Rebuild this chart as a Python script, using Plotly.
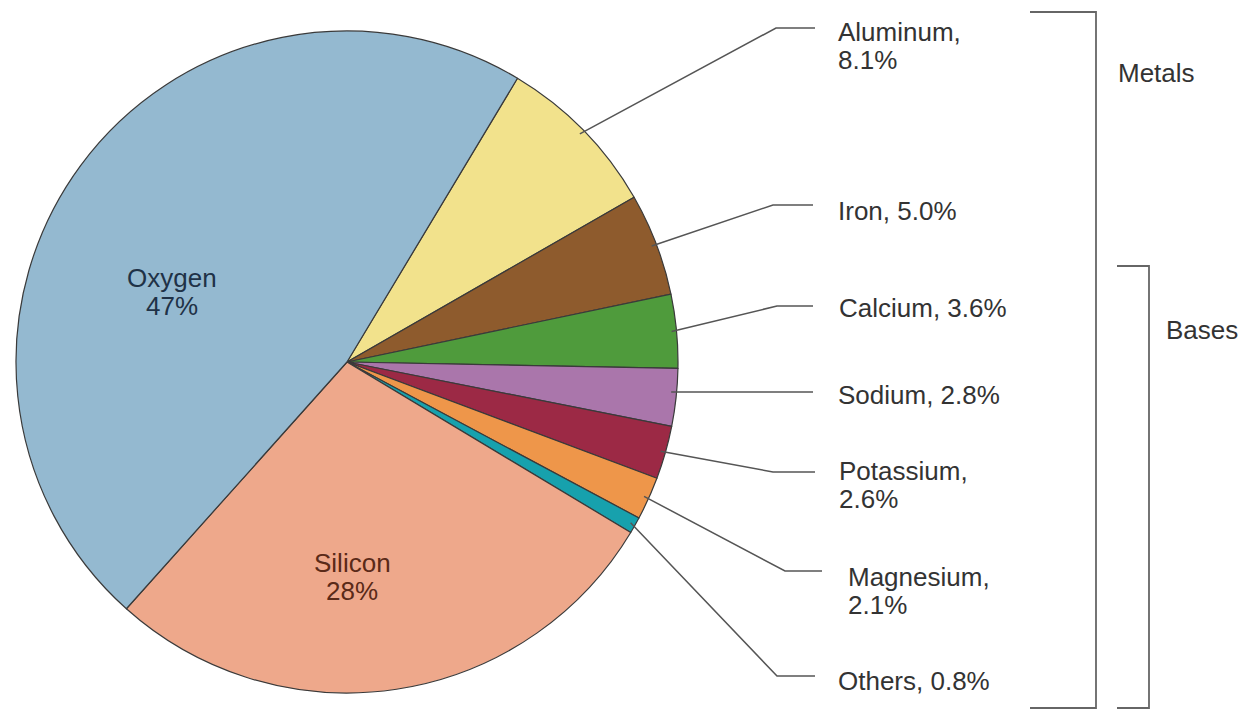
import math
import plotly.graph_objects as go

# ---- data ----
elements = ["Aluminum", "Iron", "Calcium", "Sodium", "Potassium",
            "Magnesium", "Others", "Silicon", "Oxygen"]
percent = [8.1, 5.0, 3.6, 2.8, 2.6, 2.1, 0.8, 28, 47]
colors = ["#f2e28c", "#8e5b2d", "#4f9b3c", "#aa76ab", "#9c2945",
          "#ee964a", "#17a1ad", "#eea88b", "#94b9d0"]
outside_labels = ["Aluminum,<br>8.1%", "Iron, 5.0%", "Calcium, 3.6%", "Sodium, 2.8%",
                  "Potassium,<br>2.6%", "Magnesium,<br>2.1%", "Others, 0.8%"]
inside_labels = {"Oxygen": "Oxygen<br>47%", "Silicon": "Silicon<br>28%"}
groups = ["Metals", "Bases"]

# ---- layout constants (pixels) ----
W, H = 1240, 709
CX, CY, R = 347, 362, 331
ROT = 31
FONT = "Liberation Sans, Arial, sans-serif"
FS = 26
LINE_GAP = 28

def px(x):
    return x / W

def py(y):
    return 1 - y / H

fig = go.Figure()
fig.add_trace(go.Pie(
    labels=elements, values=percent, sort=False, direction="clockwise",
    rotation=ROT, textinfo="none", hoverinfo="label+value",
    marker=dict(colors=colors, line=dict(color="#3a3a3a", width=1.2)),
    domain=dict(x=[px(CX - R), px(CX + R)], y=[py(CY + R), py(CY - R)]),
    showlegend=False,
))

annotations = []

def add_text(text, x, yc, anchor, color):
    lines = text.split("<br>")
    n = len(lines)
    for k, ln in enumerate(lines):
        y = yc + (k - (n - 1) / 2) * LINE_GAP
        annotations.append(dict(x=px(x), y=py(y), xref="paper", yref="paper",
                                text=ln, showarrow=False,
                                xanchor=anchor, yanchor="middle",
                                font=dict(family=FONT, size=FS, color=color)))

# leader lines: start on slice mid-angle, elbow, end
elbows = [(776, 28), (773, 205), (777, 306), (None, 392), (773, 472), (785, 571), (777, 676)]
line_end = [815, 813, 813, 813, 815, 822, 815]
text_pos = [(836, 46), (836, 211), (837, 308), (836, 395), (837, 485), (846, 591), (836, 681)]

total = sum(percent)
cum = 0
shapes = []
for i, name in enumerate(elements):
    v = percent[i]
    mid = ROT + (cum + v / 2) / total * 360
    cum += v
    if name in inside_labels:
        continue
    a = math.radians(mid)
    sx = CX + 0.985 * R * math.sin(a)
    sy = CY - 0.985 * R * math.cos(a)
    ex, ey = elbows[i]
    if ex is None:
        ex = sx + 5
        sy = ey
    path = f"M {px(sx)},{py(sy)} L {px(ex)},{py(ey)} L {px(line_end[i])},{py(ey)}"
    shapes.append(dict(type="path", path=path, xref="paper", yref="paper",
                       line=dict(color="#555555", width=1.5)))
    tx, ty = text_pos[i]
    add_text(outside_labels[i], tx, ty, "left", "#333333")

# inside labels
add_text(inside_labels["Oxygen"], 172, 292, "center", "#1f3247")
add_text(inside_labels["Silicon"], 352, 577, "center", "#5a2a18")

# brackets
brackets = [((1030, 12), 1096, 708), ((1117, 266), 1149, 708)]
for (x0, y0), xv, yb in brackets:
    path = (f"M {px(x0)},{py(y0)} L {px(xv)},{py(y0)} L {px(xv)},{py(yb)} "
            f"L {px(x0)},{py(yb)}")
    shapes.append(dict(type="path", path=path, xref="paper", yref="paper",
                       line=dict(color="#666666", width=1.8)))

add_text(groups[0], 1116, 73, "left", "#333333")
add_text(groups[1], 1164, 330, "left", "#333333")

fig.update_layout(
    width=W, height=H, margin=dict(l=0, r=0, t=0, b=0),
    paper_bgcolor="white", plot_bgcolor="white",
    shapes=shapes, annotations=annotations,
)
fig.write_html("out.html", config={"displayModeBar": False},
               post_script="document.body.style.margin='0';document.body.style.overflow='hidden';")
